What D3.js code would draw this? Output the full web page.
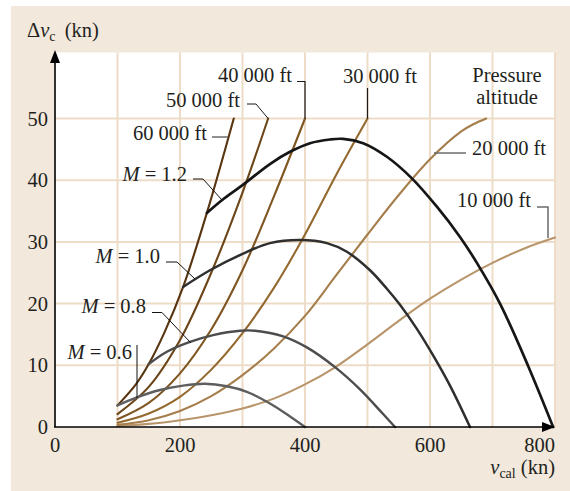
<!DOCTYPE html>
<html>
<head>
<meta charset="utf-8">
<script src="https://cdn.jsdelivr.net/npm/d3@7"></script>
<style>
  html, body { margin: 0; padding: 0; background: #ffffff; }
  svg { display: block; }
  text { font-family: "Liberation Serif", "Times New Roman", serif; fill: #231f20; }
</style>
</head>
<body>
<svg id="chart" width="570" height="491"></svg>
<script>
// Compressibility correction Δv_c against calibrated airspeed v_cal (kn)
const xTicks = [0, 200, 400, 600, 800];
const yTicks = [0, 10, 20, 30, 40, 50];
const xGridLines = [100, 200, 300, 400, 500, 600, 700, 800];
const yGridLines = [10, 20, 30, 40, 50];

// Pressure-altitude curves: [v_cal, Δv_c]
const alt10000 = [[100,0.15],[150,0.5],[200,1.1],[250,1.9],[300,3.0],[350,4.6],[400,6.9],[450,9.8],[500,13.4],[550,17.2],[600,20.8],[650,23.9],[700,26.6],[750,28.9],[800,30.7]];
const alt20000 = [[100,0.35],[150,1.1],[200,2.6],[250,5.0],[300,8.4],[350,12.7],[400,18.0],[450,24.6],[500,31.2],[550,37.6],[600,43.4],[650,47.9],[670,49.1],[690,50.0]];
const alt30000 = [[100,0.7],[150,2.2],[200,4.9],[250,9.3],[300,15.2],[350,22.5],[400,31.2],[450,40.9],[500,50.0]];
const alt40000 = [[100,1.25],[150,3.9],[200,8.7],[250,15.8],[300,25.4],[350,37.3],[400,50.0]];
const alt50000 = [[100,2.1],[150,6.5],[200,14.1],[250,25.0],[300,38.0],[341,50.0]];
const alt60000 = [[100,3.5],[130,7.0],[150,10.2],[175,15.3],[205,22.7],[243,34.7],[286,50.0]];

// Constant Mach number curves: [v_cal, Δv_c]
const mach06 = [[100,3.5],[131,4.8],[168,6.0],[205,6.7],[240,7.0],[275,6.6],[307,5.7],[344,3.8],[376,1.7],[400,0]];
const mach08 = [[150,10.2],[179,12.2],[216,13.8],[253,14.9],[296,15.6],[320,15.6],[365,14.7],[403,12.9],[448,9.7],[488,6.1],[525,2.1],[544,0]];
const mach10 = [[205,22.7],[248,25.4],[301,28.1],[344,29.8],[392,30.3],[435,29.8],[467,28.4],[504,25.4],[531,22.4],[552,19.8],[579,15.9],[605,11.6],[632,6.7],[664,0]];
const mach12 = [[243,34.7],[270,37.0],[300,39.2],[345,42.7],[376,44.6],[408,46.0],[440,46.6],[461,46.7],[493,46.0],[531,43.8],[571,40.3],[611,35.7],[648,30.8],[675,26.6],[712,20.0],[757,9.9],[797,0]];

const altitudeSeries = [
  { values: alt10000, color: "#b8956a" },
  { values: alt20000, color: "#a57e4c" },
  { values: alt30000, color: "#94692f" },
  { values: alt40000, color: "#7f5622" },
  { values: alt50000, color: "#6c4619" },
  { values: alt60000, color: "#583510" }
];
const machSeries = [
  { values: mach06, color: "#5e5e5e", width: 2.4 },
  { values: mach08, color: "#4d4d4d", width: 2.4 },
  { values: mach10, color: "#2f2f2f", width: 2.5 },
  { values: mach12, color: "#161616", width: 2.7 }
];

const svg = d3.select("#chart");

// Panel and plotting area
svg.append("rect").attr("x", 11).attr("y", 6).attr("width", 559).attr("height", 485).attr("fill", "#f2e8dc");

const x = d3.scaleLinear().domain([0, 800]).range([55, 555]);
const y = d3.scaleLinear().domain([0, 50]).range([427, 118.5]);
const yTop = 60.7;

svg.append("rect")
  .attr("x", x(0)).attr("y", y(yTop))
  .attr("width", x(800) - x(0)).attr("height", y(0) - y(yTop))
  .attr("fill", "#ffffff");

// Grid
const grid = svg.append("g").attr("stroke", "#eddcc7").attr("stroke-width", 2);
grid.selectAll("line.v").data(xGridLines).join("line")
  .attr("x1", d => x(d)).attr("x2", d => x(d))
  .attr("y1", y(0)).attr("y2", y(yTop));
grid.selectAll("line.h").data(yGridLines).join("line")
  .attr("x1", x(0)).attr("x2", x(800))
  .attr("y1", d => y(d)).attr("y2", d => y(d));

// Curves
const line = d3.line().x(d => x(d[0])).y(d => y(d[1])).curve(d3.curveCatmullRom.alpha(0.5));

svg.append("g").selectAll("path").data(altitudeSeries).join("path")
  .attr("d", d => line(d.values))
  .attr("fill", "none").attr("stroke", d => d.color).attr("stroke-width", 2.1)
  .attr("stroke-linecap", "round");

svg.append("g").selectAll("path").data(machSeries).join("path")
  .attr("d", d => line(d.values))
  .attr("fill", "none").attr("stroke", d => d.color).attr("stroke-width", d => d.width)
  .attr("stroke-linecap", "round");

// Axes with arrowheads
const axes = svg.append("g");
axes.append("line").attr("x1", x(0)).attr("x2", x(0)).attr("y1", y(0)).attr("y2", 60)
  .attr("stroke", "#000").attr("stroke-width", 1.6);
axes.append("line").attr("x1", x(0) - 1).attr("x2", x(800) - 8).attr("y1", y(0)).attr("y2", y(0))
  .attr("stroke", "#000").attr("stroke-width", 1.6);
axes.append("path").attr("d", `M${x(0)},50 L${x(0) - 5},63 L${x(0) + 5},63 Z`).attr("fill", "#000");
axes.append("path").attr("d", `M${x(800)},${y(0)} L${x(800) - 13},${y(0) - 5} L${x(800) - 13},${y(0) + 5} Z`).attr("fill", "#000");

// Tick labels
const fs = 20.5;
svg.append("g").selectAll("text").data(yTicks).join("text")
  .attr("x", 48).attr("y", d => y(d) + 7)
  .attr("text-anchor", "end").attr("font-size", fs).text(d => d);
svg.append("g").selectAll("text").data(xTicks).join("text")
  .attr("x", d => d === 800 ? x(d) : x(d)).attr("y", 452)
  .attr("text-anchor", d => d === 800 ? "end" : "middle").attr("font-size", fs).text(d => d);

// Axis titles
const yTitle = svg.append("text").attr("x", 27).attr("y", 37).attr("font-size", fs);
yTitle.append("tspan").text("Δ");
yTitle.append("tspan").attr("font-style", "italic").text("v");
yTitle.append("tspan").attr("font-size", 14).attr("dy", 4).text("c");
yTitle.append("tspan").attr("dy", -4).text("\u2009 (kn)");

const xTitle = svg.append("text").attr("x", 555).attr("y", 474).attr("font-size", fs).attr("text-anchor", "end");
xTitle.append("tspan").attr("font-style", "italic").text("v");
xTitle.append("tspan").attr("font-size", 14).attr("dy", 4).text("cal");
xTitle.append("tspan").attr("dy", -4).text(" (kn)");

// Curve labels with leader lines
const altLabels = [
  { text: "60 000 ft", x: 207, y: 140, anchor: "end", leader: [[212,137],[228,137]], stroke: "#6b6b6b", w: 1.5 },
  { text: "50 000 ft", x: 240, y: 107, anchor: "end", leader: [[247,104],[256,104],[x(341), y(50)]], stroke: "#1a1a1a", w: 1 },
  { text: "40 000 ft", x: 292, y: 82, anchor: "end", leader: [[297,81.5],[x(400),81.5],[x(400), y(50)]], stroke: "#1a1a1a", w: 1.2 },
  { text: "30 000 ft", x: 380, y: 83, anchor: "middle", leader: [[x(500),88],[x(500), y(50)]], stroke: "#1a1a1a", w: 1.2 },
  { text: "20 000 ft", x: 472, y: 155, anchor: "start", leader: [[434,153],[466,153]], stroke: "#6b6b6b", w: 1.5 },
  { text: "10 000 ft", x: 531, y: 207, anchor: "end", leader: [[537,207],[548,207],[548,238]], stroke: "#6b6b6b", w: 1.5 }
];
const machLabels = [
  { num: "1.2", x: 187, y: 181, leader: [[193,179],[203,179],[222,200]] },
  { num: "1.0", x: 160, y: 263, leader: [[166,262],[177,262],[195,279]] },
  { num: "0.8", x: 146, y: 313, leader: [[152,312.5],[162,312.5],[191,343]] },
  { num: "0.6", x: 132, y: 359, leader: null }
];

const lab = svg.append("g");
altLabels.forEach(l => {
  lab.append("path").attr("d", d3.line()(l.leader)).attr("fill", "none")
    .attr("stroke", l.stroke).attr("stroke-width", l.w);
  lab.append("text").attr("x", l.x).attr("y", l.y).attr("font-size", fs)
    .attr("text-anchor", l.anchor).text(l.text);
});
lab.append("text").attr("x", 507).attr("y", 82).attr("font-size", fs).attr("text-anchor", "middle").text("Pressure");
lab.append("text").attr("x", 507).attr("y", 104).attr("font-size", fs).attr("text-anchor", "middle").text("altitude");

machLabels.forEach(l => {
  if (l.leader) {
    lab.append("path").attr("d", d3.line()(l.leader)).attr("fill", "none")
      .attr("stroke", "#111").attr("stroke-width", 1);
  }
  const t = lab.append("text").attr("x", l.x).attr("y", l.y).attr("font-size", fs).attr("text-anchor", "end");
  t.append("tspan").attr("font-style", "italic").text("M");
  t.append("tspan").text(" = " + l.num);
});
// vertical leader for M = 0.6 down to its curve
lab.append("line").attr("x1", 137).attr("x2", 137).attr("y1", 345).attr("y2", y(4.7))
  .attr("stroke", "#111").attr("stroke-width", 1);
</script>
</body>
</html>
